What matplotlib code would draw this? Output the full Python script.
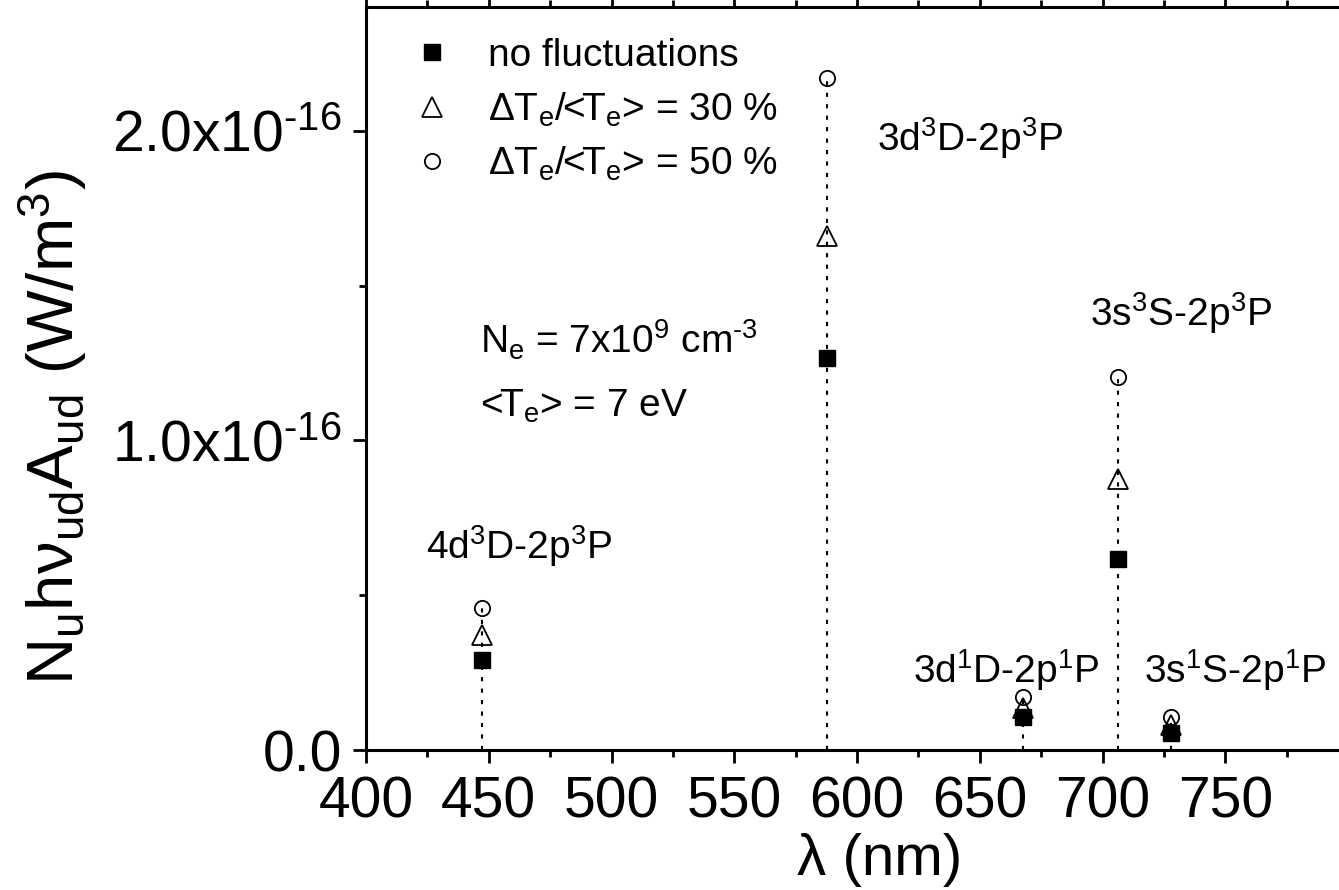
import matplotlib
matplotlib.use("Agg")
import matplotlib.pyplot as plt
from matplotlib.lines import Line2D
import numpy as np

plt.rcParams['font.family'] = ['Liberation Sans', 'DejaVu Sans']
plt.rcParams['mathtext.fontset'] = 'custom'
plt.rcParams['mathtext.rm'] = 'Liberation Sans'
plt.rcParams['mathtext.it'] = 'Liberation Sans'
plt.rcParams['mathtext.bf'] = 'Liberation Sans'
plt.rcParams['mathtext.default'] = 'regular'

# ---- data ----
wavelengths = [447.1, 587.6, 667.8, 706.5, 728.1]
no_fluct = [0.29e-16, 1.265e-16, 0.106e-16, 0.616e-16, 0.055e-16]
fluct30 = [0.37e-16, 1.66e-16, 0.135e-16, 0.874e-16, 0.08e-16]
fluct50 = [0.46e-16, 2.17e-16, 0.17e-16, 1.206e-16, 0.105e-16]
line_labels = [r'4d$^3$D-2p$^3$P', r'3d$^3$D-2p$^3$P', r'3d$^1$D-2p$^1$P',
               r'3s$^3$S-2p$^3$P', r'3s$^1$S-2p$^1$P']
label_x = [424.4, 608.0, 622.8, 695.0, 716.9]
label_y = [0.616e-16, 1.935e-16, 0.216e-16, 1.371e-16, 0.216e-16]
series_names = ['no fluctuations', r'ΔT$_e$/<T$_e$> = 30 %', r'ΔT$_e$/<T$_e$> = 50 %']
xticks = [400, 450, 500, 550, 600, 650, 700, 750]
yticks = [0.0, 1.0e-16, 2.0e-16]
ytick_labels = ['0.0', r'1.0x10$^{\text{-16}}$', r'2.0x10$^{\text{-16}}$']

fig = plt.figure(figsize=(13.39, 8.90), dpi=100)
ax = fig.add_axes([366/1339, (890-750)/890, (1348-366)/1339, (750-7)/890])

# dotted drop lines
for x, top in zip(wavelengths, fluct50):
    ax.plot([x, x], [0, top], color='black', lw=1.5, linestyle=(0, (2, 3.5)), zorder=1)

ms = 11
ax.plot(wavelengths, no_fluct, linestyle='none', marker='s', ms=ms, color='black', zorder=3)
ax.plot(wavelengths, fluct30, linestyle='none', marker='^', ms=14, mfc='none',
        mec='black', mew=1.3, zorder=3)
ax.plot(wavelengths, fluct50, linestyle='none', marker='o', ms=ms, mfc='none',
        mec='black', mew=1.3, zorder=3)

for t, x, y in zip(line_labels, label_x, label_y):
    ax.text(x, y, t, fontsize=28, ha='left', va='baseline')

ax.text(446.4, 1.281e-16, r'N$_e$ = 7x10$^9$ cm$^{\text{-3}}$', fontsize=28, ha='left', va='baseline')
ax.text(446.4, 1.077e-16, r'<T$_e$> = 7 eV', fontsize=28, ha='left', va='baseline')

handles = [
    Line2D([], [], linestyle='none', marker='s', ms=ms, color='black'),
    Line2D([], [], linestyle='none', marker='^', ms=14, mfc='none', mec='black', mew=1.3),
    Line2D([], [], linestyle='none', marker='o', ms=ms, mfc='none', mec='black', mew=1.3),
]
leg = ax.legend(handles, series_names, loc='upper left',
                bbox_to_anchor=((412.5-366)/982, (750-38)/743),
                frameon=False, fontsize=28, handlelength=1.0, handletextpad=0.94,
                borderpad=0, borderaxespad=0, labelspacing=0.42)

ax.set_xlim(400, 800)
ax.set_ylim(0, 2.4e-16)
ax.set_xticks(xticks)
ax.set_xticks([425, 475, 525, 575, 625, 675, 725, 775], minor=True)
ax.set_yticks(yticks)
ax.set_yticklabels(ytick_labels)
ax.set_yticks([0.5e-16, 1.5e-16], minor=True)

for s in ax.spines.values():
    s.set_linewidth(2.2)
ax.tick_params(which='both', direction='out', width=2.0, labelsize=41, top=True)
ax.tick_params(which='major', length=9.5, pad=9)
ax.tick_params(which='minor', length=5)
ax.tick_params(axis='y', which='major', pad=8)

ax.set_xlabel('λ (nm)', fontsize=42)
ax.xaxis.set_label_coords((880-366)/982, -(860-750)/743)
ax.xaxis.label.set_va('center')
ax.set_ylabel(r'N$_u$hν$_{ud}$A$_{ud}$ (W/m$^3$)', fontsize=47)
ax.yaxis.set_label_coords((52-366)/982, (750-428)/743)
ax.yaxis.label.set_va('center')
ax.yaxis.label.set_ha('center')

fig.savefig('out.png', dpi=100)
